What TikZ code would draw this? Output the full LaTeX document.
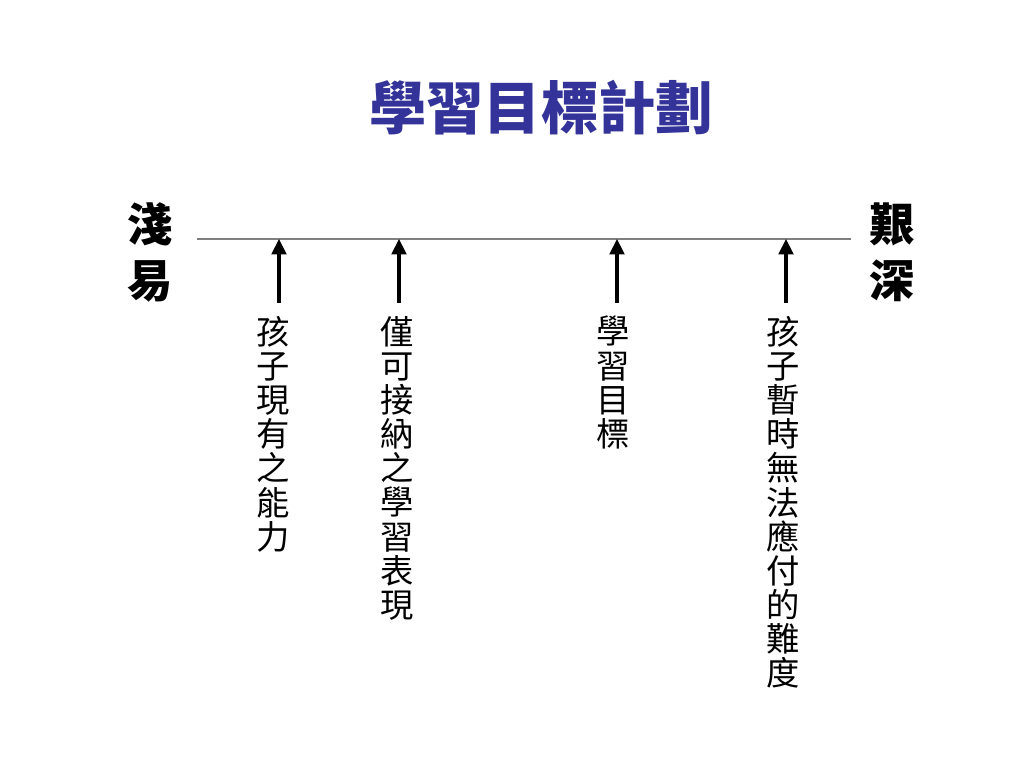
\documentclass[tikz,border=0pt]{standalone}
\usepackage{fontspec}
\usetikzlibrary{arrows.meta}
\newfontfamily\cjk{Noto Sans CJK TC}
\definecolor{titleblue}{RGB}{51,51,153}
\definecolor{axisgray}{RGB}{128,128,128}
\tikzset{
  titletext/.style={font=\cjk\bfseries\fontsize{43}{43}\selectfont, text=titleblue, inner sep=0},
  sidetext/.style={font=\cjk\bfseries\fontsize{34}{42}\selectfont, align=center, inner sep=0},
  vtext/.style={font=\cjk\fontsize{25}{25.6}\selectfont, align=center, inner sep=0, anchor=north},
  axisline/.style={draw=axisgray, line width=1.1pt},
  uparrow/.style={draw=black, line width=2.3pt, -{Triangle[width=11pt,length=11.5pt]}}
}
\begin{document}
\begin{tikzpicture}[x=0.75pt,y=-0.75pt]
\useasboundingbox (0,0) rectangle (1024,768);
\node[titletext] (title) at (541,108) {學習目標計劃};
\node[sidetext] (easy) at (150,252) {淺\\易};
\node[sidetext] (hard) at (892,252) {艱\\深};
\coordinate (lineL) at (197,239);
\coordinate (lineR) at (851,239);
\draw[axisline] (lineL) -- (lineR);
\foreach \i/\x in {1/279,2/399,3/617,4/786}{
  \coordinate (b\i) at (\x,303);
  \coordinate (t\i) at (\x,239);
  \draw[uparrow] (b\i) -- (t\i);
}
\node[vtext] (c1) at (273,316) {孩\\子\\現\\有\\之\\能\\力};
\node[vtext] (c2) at (397,316) {僅\\可\\接\\納\\之\\學\\習\\表\\現};
\node[vtext] (c3) at (613,316) {學\\習\\目\\標};
\node[vtext] (c4) at (783,316) {孩\\子\\暫\\時\\無\\法\\應\\付\\的\\難\\度};
\end{tikzpicture}
\end{document}
